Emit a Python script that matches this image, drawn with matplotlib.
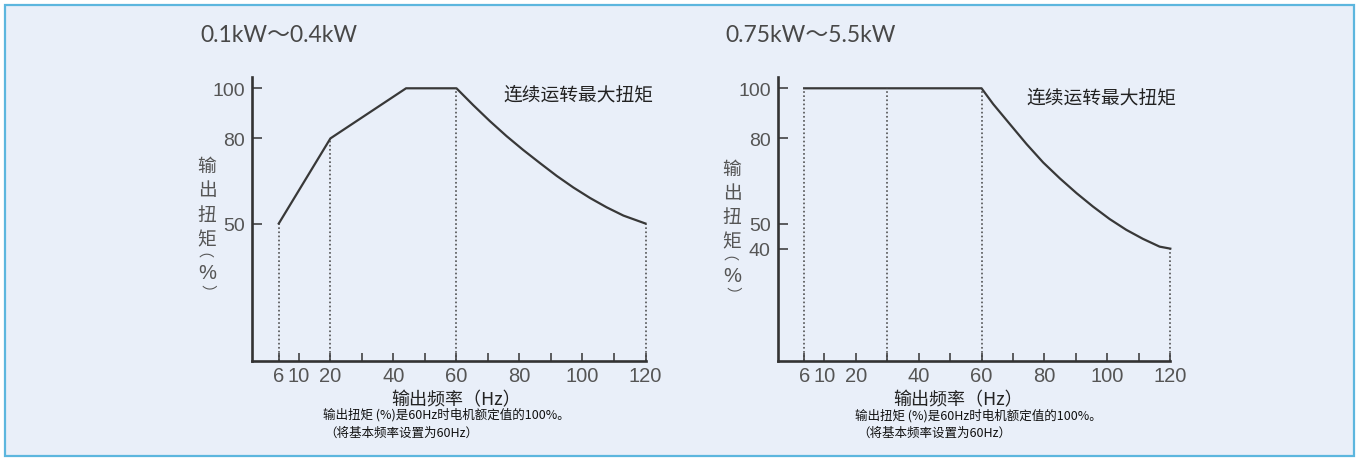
import numpy as np
import matplotlib.pyplot as plt
from matplotlib.patches import Rectangle

plt.rcParams['font.family'] = ['Noto Sans CJK SC', 'DejaVu Sans']

W, H = 1361, 464

# 0.1kW~0.4kW panel
freq_small = [6, 20, 44, 60, 65.3, 70.6, 75.9, 81.2, 86.5, 91.8, 97.1, 102.4, 107.7, 113, 120]
torque_small = [50, 80, 100, 100, 93.3, 86.9, 80.9, 75.9, 71.3, 66.8, 62.7, 59.0, 55.7, 52.8, 50]
guides_small = [6, 20, 60, 120]
yticks_small = [50, 80, 100]

# 0.75kW~5.5kW panel
freq_large = [6, 60, 63.7, 69, 74.3, 79.6, 84.9, 90.2, 95.4, 100.7, 106, 111.3, 116.6, 120]
torque_large = [100, 100, 93.7, 85.7, 78.0, 71.5, 65.9, 60.7, 56.0, 51.6, 47.5, 43.9, 40.8, 40]
guides_large = [6, 30, 60, 120]
yticks_large = [40, 50, 80, 100]

xticks = [6, 10, 20, 40, 60, 80, 100, 120]
xticks_minor = [30, 50, 70, 90, 110]

titles = ['0.1kW～0.4kW', '0.75kW～5.5kW']
curve_label = '连续运转最大扭矩'
ylabel_chars = ['输', '出', '扭', '矩']
xlabel = '输出频率（Hz）'
note1 = '输出扭矩 (%)是60Hz时电机额定值的100%。'
note2 = '（将基本频率设置为60Hz）'

NUM = ['Liberation Sans', 'DejaVu Sans']
LIGHT = ['Lato', 'Noto Sans CJK SC']

# the drawing stretches the 0-10 Hz stretch and squeezes 80-100 %
XK = 1.6
def fwd_x(x):
    x = np.asarray(x, dtype=float)
    return np.where(x < 10, 10 - (10 - x) * XK, x)

def inv_x(u):
    u = np.asarray(u, dtype=float)
    return np.where(u < 10, 10 - (10 - u) / XK, u)

Y_VAL = [0, 40, 50, 80, 100, 200]
Y_POS = [0, 112.1, 137.2, 222.4, 272.5, 522.5]
def fwd_y(y):
    return np.interp(np.asarray(y, dtype=float), Y_VAL, Y_POS)

def inv_y(u):
    return np.interp(np.asarray(u, dtype=float), Y_POS, Y_VAL)


fig = plt.figure(figsize=(W / 100, H / 100), dpi=100)
fig.patch.set_facecolor('white')
fig.add_artist(Rectangle((5 / W, 1 - 457 / H), 1349 / W, 451 / H, transform=fig.transFigure,
                         facecolor='#e9eff9', edgecolor='#5cb6de', lw=1.6, zorder=0))


def ftext(x, y, s, **kw):
    return fig.text(x / W, 1 - y / H, s, **kw)


def draw_panel(x0, x1, freq, torque, guides, yticks):
    ax = fig.add_axes([x0 / W, 1 - 361.7 / H, (x1 - x0) / W, (361.7 - 78.3) / H])
    ax.set_facecolor('none')
    ax.set_xscale('function', functions=(fwd_x, inv_x))
    ax.set_yscale('function', functions=(fwd_y, inv_y))
    ax.set_xlim(10 - 14.8 / XK, 120)
    ax.set_ylim(0, 104.4)
    for s in ['top', 'right']:
        ax.spines[s].set_visible(False)
    for s in ['left', 'bottom']:
        ax.spines[s].set_linewidth(1.9)
        ax.spines[s].set_color('#333333')

    ax.plot(freq, torque, color='#383838', lw=1.6, clip_on=False)
    ax.vlines(guides, 0, np.interp(guides, freq, torque), colors='#444444',
              linestyles=(0, (1.1, 1.6)), lw=1.1, clip_on=False)

    ax.set_xticks(xticks, labels=[str(t) for t in xticks])
    ax.set_xticks(xticks_minor, minor=True)
    ax.set_yticks(yticks, labels=[str(t) for t in yticks])
    ax.tick_params(axis='x', which='both', direction='in', length=6, width=1.1,
                   color='#333333', pad=4, labelsize=14.5, labelcolor='#555555')
    ax.tick_params(axis='y', which='both', direction='in', length=7, width=1.1,
                   color='#333333', pad=5, labelsize=14, labelcolor='#555555')
    for lab in ax.get_xticklabels() + ax.get_yticklabels():
        lab.set_fontfamily(NUM)
    return ax


draw_panel(252.3, 645.5, freq_small, torque_small, guides_small, yticks_small)
draw_panel(777.7, 1170.3, freq_large, torque_large, guides_large, yticks_large)

# titles
ftext(200, 35, titles[0], ha='left', va='center', fontsize=16.5, color='#484848', family=LIGHT)
ftext(725, 35, titles[1], ha='left', va='center', fontsize=16.5, color='#484848', family=LIGHT)

# curve captions
ftext(578, 95, curve_label, ha='center', va='center', fontsize=13.5, color='#222222')
ftext(1101, 97.5, curve_label, ha='center', va='center', fontsize=13.5, color='#222222')

# vertical y labels, with the brackets of (%) turned on their side
for xc, y0 in [(207, 166.5), (732, 169)]:
    for i, ch in enumerate(ylabel_chars):
        ftext(xc, y0 + i * 24.4, ch, ha='center', va='center', fontsize=13.5, color='#555555')
    ftext(xc - 13, y0 + 93.5, '（', ha='center', va='center', fontsize=11, color='#555555',
          rotation=-90)
    ftext(xc, y0 + 107, '%', ha='center', va='center', fontsize=14.5, color='#555555',
          family=NUM)
    ftext(xc, y0 + 125, '）', ha='center', va='center', fontsize=11, color='#555555',
          rotation=-90)

# x labels and notes
ftext(456, 400, xlabel, ha='center', va='center', fontsize=13, color='#222222')
ftext(958.5, 400, xlabel, ha='center', va='center', fontsize=13, color='#222222')
ftext(323, 414.5, note1, ha='left', va='center', fontsize=9, color='#111111')
ftext(324, 433, note2, ha='left', va='center', fontsize=9, color='#111111')
ftext(855, 415.5, note1, ha='left', va='center', fontsize=9, color='#111111')
ftext(857.5, 433.5, note2, ha='left', va='center', fontsize=9, color='#111111')

fig.savefig('out.png', dpi=100)
